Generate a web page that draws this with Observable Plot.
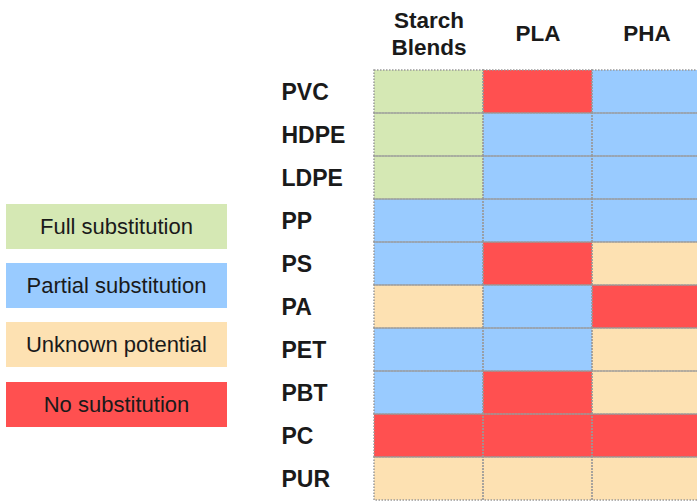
<!DOCTYPE html>
<html>
<head>
<meta charset="utf-8">
<script src="https://cdn.jsdelivr.net/npm/d3@7"></script>
<script src="https://cdn.jsdelivr.net/npm/@observablehq/plot@0.6"></script>
<style>
  html, body { margin: 0; padding: 0; background: #fff; overflow: hidden; }
  #wrap { position: relative; width: 697px; height: 504px; overflow: hidden; font-family: "Liberation Sans", Arial, sans-serif; }
  #chart { position: absolute; left: 0; top: 0; }
  .leg { position: absolute; left: 6px; width: 221px; height: 45px; display: flex; align-items: center; justify-content: center; font-size: 22px; color: #1a1a1a; }
</style>
</head>
<body>
<div id="wrap"><div id="chart"></div><div id="legend"></div></div>
<script>
const columns = ["Starch Blends", "PLA", "PHA"];
const columnLabels = ["Starch\nBlends", "PLA", "PHA"];
const rows = ["PVC", "HDPE", "LDPE", "PP", "PS", "PA", "PET", "PBT", "PC", "PUR"];
const categories = ["Full substitution", "Partial substitution", "Unknown potential", "No substitution"];
const colors = ["#d5e8b4", "#99cbff", "#fde1b2", "#ff5050"];
// values per row: [Starch Blends, PLA, PHA]
const starchValues = ["Full substitution", "Full substitution", "Full substitution", "Partial substitution", "Partial substitution", "Unknown potential", "Partial substitution", "Partial substitution", "No substitution", "Unknown potential"];
const plaValues = ["No substitution", "Partial substitution", "Partial substitution", "Partial substitution", "No substitution", "Partial substitution", "Partial substitution", "No substitution", "No substitution", "Unknown potential"];
const phaValues = ["Partial substitution", "Partial substitution", "Partial substitution", "Partial substitution", "Unknown potential", "No substitution", "Unknown potential", "Unknown potential", "No substitution", "Unknown potential"];

const seriesByColumn = [starchValues, plaValues, phaValues];
const table = [];
columns.forEach((c, i) => rows.forEach((r, j) => table.push({col: c, row: r, value: seriesByColumn[i][j]})));

const font = '"Liberation Sans", Arial, sans-serif';
const chart = Plot.plot({
  width: 697,
  height: 504,
  marginLeft: 373,
  marginTop: 66,
  marginRight: 0,
  marginBottom: 1,
  style: {fontFamily: font, background: "transparent", overflow: "visible"},
  x: {domain: columns, range: [373, 702], padding: 0, axis: null},
  y: {domain: rows, range: [66, 503], padding: 0, axis: null},
  color: {type: "ordinal", domain: categories, range: colors},
  marks: [
    Plot.cell(table, {x: "col", y: "row", fill: "value"}),
    Plot.cell(table, {x: "col", y: "row", fill: "none", stroke: "#999", strokeWidth: 1.5, strokeDasharray: "1.5,1.5"}),
    Plot.text(rows, {y: d => d, frameAnchor: "left", dx: -92, dy: 1, textAnchor: "start", fontWeight: "bold", fontSize: 23, fill: "#1a1a1a"}),
    Plot.text(columns, {x: d => d, text: (d, i) => columnLabels[i], frameAnchor: "top", dy: -34, lineAnchor: "middle", lineHeight: 1.22, fontWeight: "bold", fontSize: 22.5, fill: "#1a1a1a"})
  ]
});
document.getElementById("chart").appendChild(chart);

const legendTops = [204, 263, 322, 382];
const legend = document.getElementById("legend");
categories.forEach((c, i) => {
  const d = document.createElement("div");
  d.className = "leg";
  d.style.top = legendTops[i] + "px";
  d.style.background = colors[i];
  d.textContent = c;
  legend.appendChild(d);
});
</script>
</body>
</html>
